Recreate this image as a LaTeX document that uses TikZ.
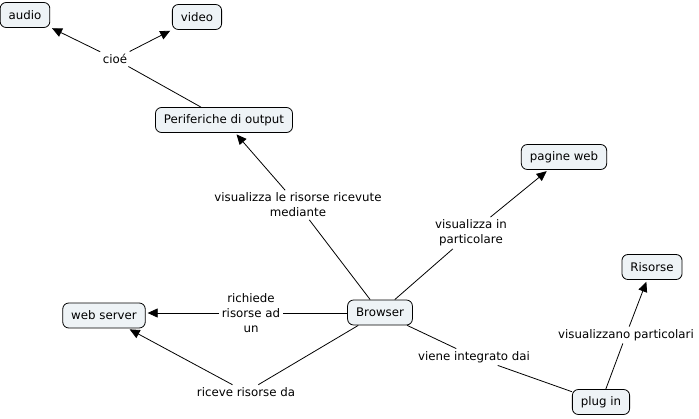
\documentclass[tikz,border=0pt]{standalone}
\usepackage{fontspec}
\setmainfont{DejaVu Sans}
\usetikzlibrary{arrows.meta}
\definecolor{nodefill}{HTML}{EEF3F6}
\tikzset{
  concept/.style={draw=black, fill=nodefill, rounded corners=6pt, line width=0.8pt,
    inner xsep=8.5pt, inner ysep=0pt, minimum height=25pt, font=\fontsize{11.8}{15}\selectfont},
  linkl/.style={inner sep=2.5pt, align=center, font=\fontsize{11.8}{15}\selectfont},
  conn/.style={line width=0.8pt},
  arr/.style={line width=0.8pt, -{Triangle[length=10pt,width=9pt]}, shorten >=2pt}
}
\begin{document}
\begin{tikzpicture}[x=1pt,y=-1pt]
\useasboundingbox (0,0) rectangle (699,418);
% concepts
\node[concept] (audio) at (25,15) {audio};
\node[concept] (video) at (197,17) {video};
\node[concept] (perif) at (224,120) {Periferiche di output};
\node[concept] (browser) at (380,312.5) {Browser};
\node[concept] (web) at (104,315.5) {web server};
\node[concept] (pagine) at (564,157) {pagine web};
\node[concept] (risorse) at (652,267) {Risorse};
\node[concept] (plug) at (601,402) {plug in};
% link labels
\node[linkl] (cioe) at (115,59) {cioé};
\node[linkl] (visris) at (298,205) {visualizza le risorse ricevute\\mediante};
\node[linkl] (rich) at (251,313) {richiede\\risorse ad\\un};
\node[linkl] (ricev) at (246,392) {riceve risorse da};
\node[linkl] (visin) at (471,233) {visualizza in\\particolare};
\node[linkl] (viene) at (474,357) {viene integrato dai};
\node[linkl] (vispar) at (626,335) {visualizzano particolari};
% connectors
\draw[conn] (perif) -- (cioe);
\draw[arr] (cioe) -- (audio);
\draw[arr] (cioe) -- (video);
\draw[conn] (browser) -- (visris);
\draw[arr] (visris) -- (perif);
\draw[conn] (browser.west |- rich.east) -- (rich.east);
\draw[arr] (rich.west) -- (rich.west -| web.east);
\draw[conn] (browser) -- (ricev);
\draw[arr] (ricev) -- (web);
\draw[conn] (browser) -- (visin);
\draw[arr] (visin) -- (pagine);
\draw[conn] (browser) -- (viene);
\draw[conn] (viene) -- (plug);
\draw[conn] (plug) -- (vispar);
\draw[arr] (vispar) -- (risorse);
\end{tikzpicture}
\end{document}
